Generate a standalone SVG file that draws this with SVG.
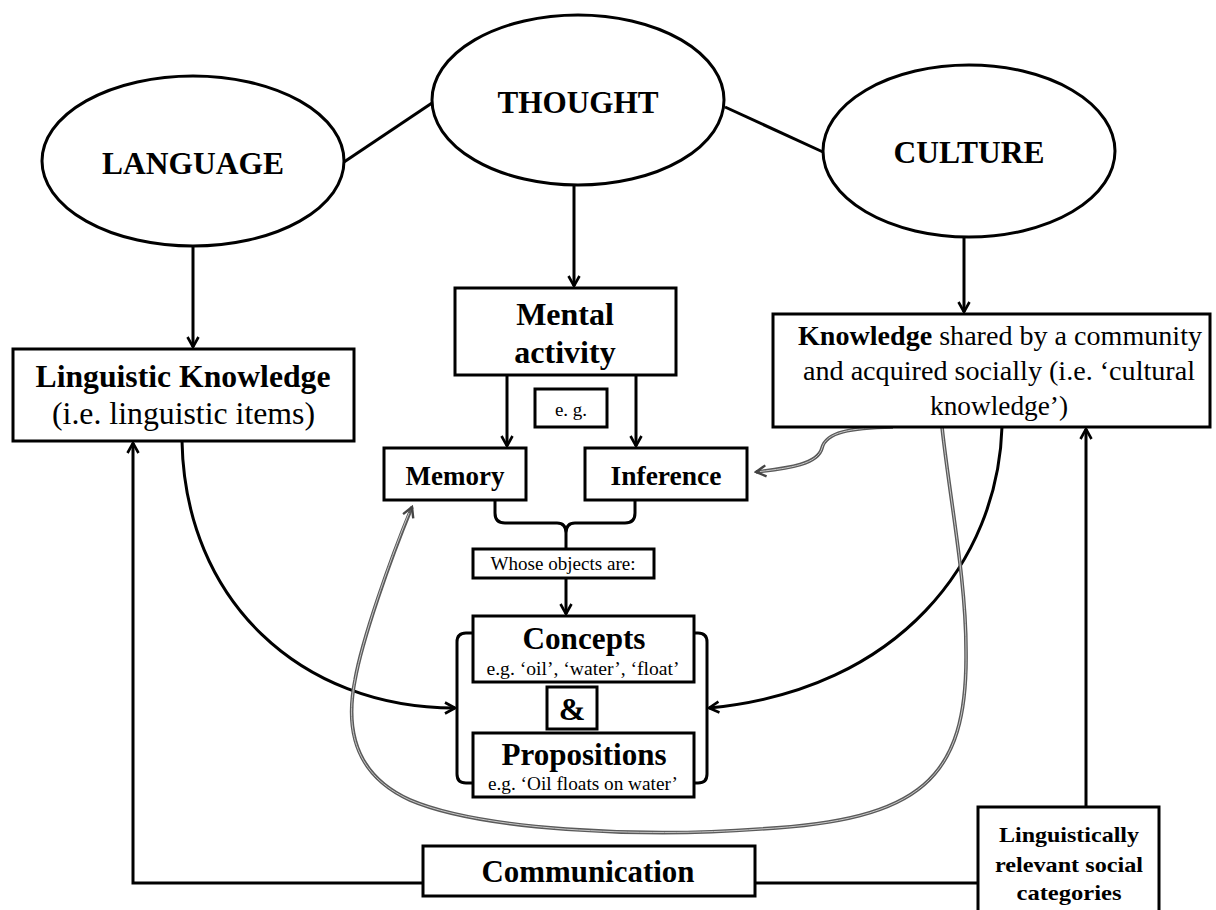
<svg xmlns="http://www.w3.org/2000/svg" width="1216" height="910" viewBox="0 0 1216 910">
<style>
.n{fill:#fff;stroke:#000;stroke-width:3}
.c{fill:none;stroke:#000;stroke-width:3}
.g{fill:none;stroke:#5a5a5a;stroke-width:3.6}
.gi{fill:none;stroke:#c8c8c8;stroke-width:1}
text{font-family:"Liberation Serif","Times New Roman",serif;fill:#000;text-anchor:middle}
.b{font-weight:bold}
</style>
<defs>
<marker id="ah" viewBox="0 0 14 14" refX="12" refY="7" markerWidth="14" markerHeight="14" orient="auto" markerUnits="userSpaceOnUse"><path d="M2,1.5 L12,7 L2,12.5" fill="none" stroke="#000" stroke-width="2.6"/></marker>
<marker id="ag" viewBox="0 0 14 14" refX="12" refY="7" markerWidth="14" markerHeight="14" orient="auto" markerUnits="userSpaceOnUse"><path d="M2,1.5 L12,7 L2,12.5" fill="none" stroke="#444" stroke-width="2.4"/></marker>
</defs>
<rect width="1216" height="910" fill="#fff"/>
<g id="connectors">
<line class="c" x1="344" y1="162" x2="432" y2="103"/>
<line class="c" x1="725" y1="107" x2="823" y2="152"/>
<line class="c" x1="193" y1="247" x2="193" y2="347" marker-end="url(#ah)"/>
<line class="c" x1="574" y1="185" x2="574" y2="286" marker-end="url(#ah)"/>
<line class="c" x1="964" y1="237" x2="964" y2="312" marker-end="url(#ah)"/>
<line class="c" x1="507" y1="375" x2="507" y2="446" marker-end="url(#ah)"/>
<line class="c" x1="636" y1="375" x2="636" y2="446" marker-end="url(#ah)"/>
<path class="c" d="M495,500 V513 Q495,523 505,523 H557 Q566,523 566,533 V549 M635,500 V513 Q635,523 625,523 H575 Q566,523 566,533"/>
<line class="c" x1="566" y1="578" x2="566" y2="614" marker-end="url(#ah)"/>
<path class="c" d="M473,633 H466 Q457,633 457,642 V774 Q457,783 466,783 H473"/>
<path class="c" d="M694,633 H698 Q707,633 707,642 V774 Q707,783 698,783 H694"/>
<path class="c" d="M182,441 C185,600 300,708 455,708" marker-end="url(#ah)"/>
<path class="c" d="M1002,427 C998,560 900,690 709,708" marker-end="url(#ah)"/>
<path class="g" d="M893,427 C850,428 826,432 822,448 C818,464 790,468 756,472" marker-end="url(#ag)"/>
<path class="gi" d="M893,427 C850,428 826,432 822,448 C818,464 790,468 760,471.5"/>
<path class="g" d="M942,427 C950,500 966,580 966,650 C968,780 920,820 760,829 C640,838 480,830 410,800 C355,775 345,730 355,680 C362,640 390,560 412,507" marker-end="url(#ag)"/>
<path class="gi" d="M942,427 C950,500 966,580 966,650 C968,780 920,820 760,829 C640,838 480,830 410,800 C355,775 345,730 355,680 C362,640 388,565 409,513"/>
<path class="c" d="M423,883 H133 V443" marker-end="url(#ah)"/>
<path class="c" d="M755,883 H978"/>
<line class="c" x1="1086" y1="807" x2="1086" y2="429" marker-end="url(#ah)"/>
</g>
<g id="language"><ellipse class="n" cx="193" cy="161" rx="151" ry="85"/><text class="b" x="193" y="174" font-size="31" textLength="182" lengthAdjust="spacingAndGlyphs">LANGUAGE</text></g>
<g id="thought"><ellipse class="n" cx="578" cy="100" rx="146" ry="85"/><text class="b" x="578" y="113" font-size="31" textLength="161" lengthAdjust="spacingAndGlyphs">THOUGHT</text></g>
<g id="culture"><ellipse class="n" cx="969" cy="151" rx="146" ry="86"/><text class="b" x="969" y="163" font-size="31" textLength="151" lengthAdjust="spacingAndGlyphs">CULTURE</text></g>
<g id="linguistic-knowledge"><rect class="n" x="13" y="349" width="341" height="92"/>
<text class="b" x="183" y="387" font-size="32" textLength="295" lengthAdjust="spacingAndGlyphs">Linguistic Knowledge</text>
<text x="183.5" y="424" font-size="32" textLength="263" lengthAdjust="spacingAndGlyphs">(i.e. linguistic items)</text></g>
<g id="mental-activity"><rect class="n" x="455" y="288" width="221" height="87"/>
<text class="b" x="565" y="325" font-size="32">Mental</text>
<text class="b" x="565" y="363" font-size="32">activity</text></g>
<g id="cultural-knowledge"><rect class="n" x="773" y="314" width="437" height="113"/>
<text x="1000" y="345" font-size="28" textLength="404" lengthAdjust="spacingAndGlyphs"><tspan class="b">Knowledge</tspan> shared by a community</text>
<text x="999" y="380" font-size="28" textLength="392" lengthAdjust="spacingAndGlyphs">and acquired socially (i.e. ‘cultural</text>
<text x="999" y="415" font-size="28" textLength="138" lengthAdjust="spacingAndGlyphs">knowledge’)</text></g>
<g id="eg"><rect class="n" x="535" y="389" width="72" height="38"/><text x="571" y="416" font-size="19">e. g.</text></g>
<g id="memory"><rect class="n" x="384" y="448" width="142" height="52"/><text class="b" x="455" y="485" font-size="27" textLength="99" lengthAdjust="spacingAndGlyphs">Memory</text></g>
<g id="inference"><rect class="n" x="585" y="448" width="162" height="52"/><text class="b" x="666" y="485" font-size="27" textLength="111" lengthAdjust="spacingAndGlyphs">Inference</text></g>
<g id="whose"><rect class="n" x="473" y="549" width="181" height="29"/><text x="563" y="570" font-size="19" textLength="145" lengthAdjust="spacingAndGlyphs">Whose objects are:</text></g>
<g id="concepts"><rect class="n" x="473" y="616" width="221" height="66"/>
<text class="b" x="584" y="649" font-size="31" textLength="123" lengthAdjust="spacingAndGlyphs">Concepts</text>
<text x="583" y="675" font-size="19" textLength="193" lengthAdjust="spacingAndGlyphs">e.g. ‘oil’, ‘water’,  ‘float’</text></g>
<g id="and"><rect class="n" x="547" y="687" width="50" height="42"/><text class="b" x="572" y="720" font-size="32">&amp;</text></g>
<g id="propositions"><rect class="n" x="473" y="733" width="221" height="64"/>
<text class="b" x="584" y="765" font-size="31" textLength="165" lengthAdjust="spacingAndGlyphs">Propositions</text>
<text x="583" y="790" font-size="19" textLength="190" lengthAdjust="spacingAndGlyphs">e.g. ‘Oil floats on water’</text></g>
<g id="communication"><rect class="n" x="423" y="846" width="332" height="50"/><text class="b" x="588" y="882" font-size="31" textLength="213" lengthAdjust="spacingAndGlyphs">Communication</text></g>
<g id="social-categories"><rect class="n" x="978" y="807" width="181" height="120"/>
<text class="b" x="1069" y="842" font-size="22" textLength="140" lengthAdjust="spacingAndGlyphs">Linguistically</text>
<text class="b" x="1069" y="872" font-size="22" textLength="148" lengthAdjust="spacingAndGlyphs">relevant social</text>
<text class="b" x="1069" y="900" font-size="22" textLength="105" lengthAdjust="spacingAndGlyphs">categories</text></g>
</svg>
